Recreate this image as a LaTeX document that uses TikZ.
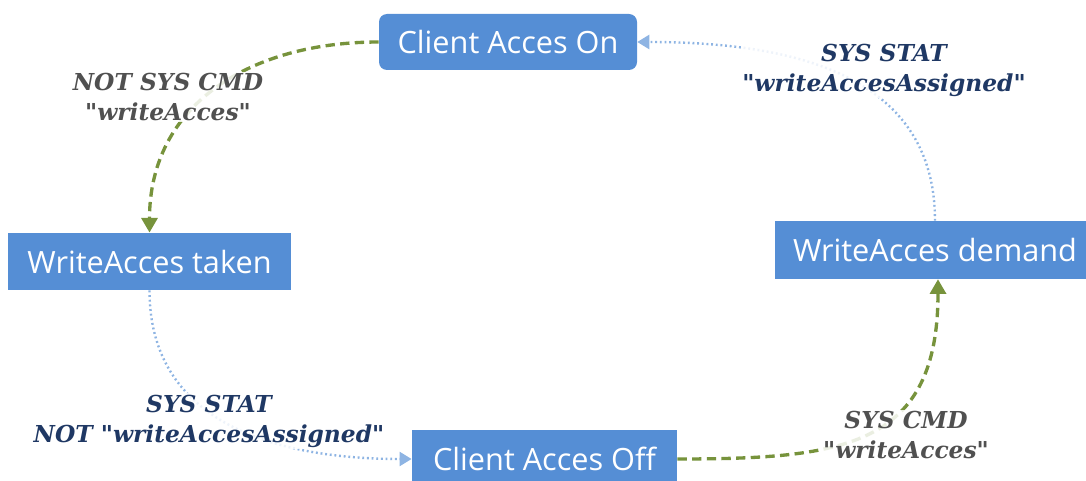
\documentclass[tikz,border=0pt]{standalone}
\usepackage{fontspec}
\setmainfont{Open Sans}
\newfontfamily\lblfont{DejaVu Serif}
\usetikzlibrary{arrows.meta,calc}
\definecolor{boxblue}{RGB}{85,142,213}
\definecolor{cmdgreen}{RGB}{119,147,60}
\definecolor{statblue}{RGB}{142,180,227}
\definecolor{lblgray}{RGB}{80,80,80}
\definecolor{lblblue}{RGB}{31,56,100}
\tikzset{
  state/.style={fill=boxblue, text=white, inner sep=0pt, font=\fontsize{23}{26}\selectfont},
  cmdedge/.style={draw=cmdgreen, line width=2.5pt, dash pattern=on 7pt off 4pt,
    -{Triangle[width=12pt,length=11pt]}},
  statedge/.style={draw=statblue, line width=1.8pt, dash pattern=on 1.4pt off 2.1pt,
    -{Triangle[width=10.5pt,length=9pt]}},
  lbl/.style={align=center, fill=white, fill opacity=0.85, text opacity=1, inner sep=1pt,
    font=\lblfont\bfseries\itshape\fontsize{17.5}{22.5}\selectfont},
}
\begin{document}
\begin{tikzpicture}[x=0.75pt,y=-0.75pt]
\useasboundingbox (0,0) rectangle (1086,481);
% states
\node[state, rounded corners=6pt, minimum width=193.5pt, minimum height=42pt] (on) at (508,42) {Client Acces On};
\node[state, minimum width=212pt, minimum height=43pt] (taken) at (149.5,261.5) {WriteAcces taken};
\node[state, minimum width=240pt, minimum height=43.5pt] (demand) at (935,250) {WriteAcces demand};
\node[state, minimum width=199pt, minimum height=43.5pt] (off) at (544.5,459) {Client Acces Off};
% transitions
\draw[cmdedge] (on.west) to[out=180,in=90,looseness=1.1] (taken.north);
\draw[statedge] (taken.south) to[out=-90,in=180,looseness=1.1] (off.west);
\draw[cmdedge] (off.east) to[out=0,in=-90,looseness=1.35] ($(demand.south)+(3,0)$);
\draw[statedge] (demand.north) to[out=90,in=0,looseness=1.1] (on.east);
% transition labels
\node[lbl, text=lblgray] (l1) at (168,97) {NOT SYS CMD\\"writeAcces"};
\node[lbl, text=lblblue] (l2) at (209,421) {SYS STAT\\NOT "writeAccesAssigned"};
\node[lbl, text=lblgray] (l3) at (906,435) {SYS CMD\\"writeAcces"};
\node[lbl, text=lblblue] (l4) at (884,70) {SYS STAT\\"writeAccesAssigned"};
\end{tikzpicture}
\end{document}
